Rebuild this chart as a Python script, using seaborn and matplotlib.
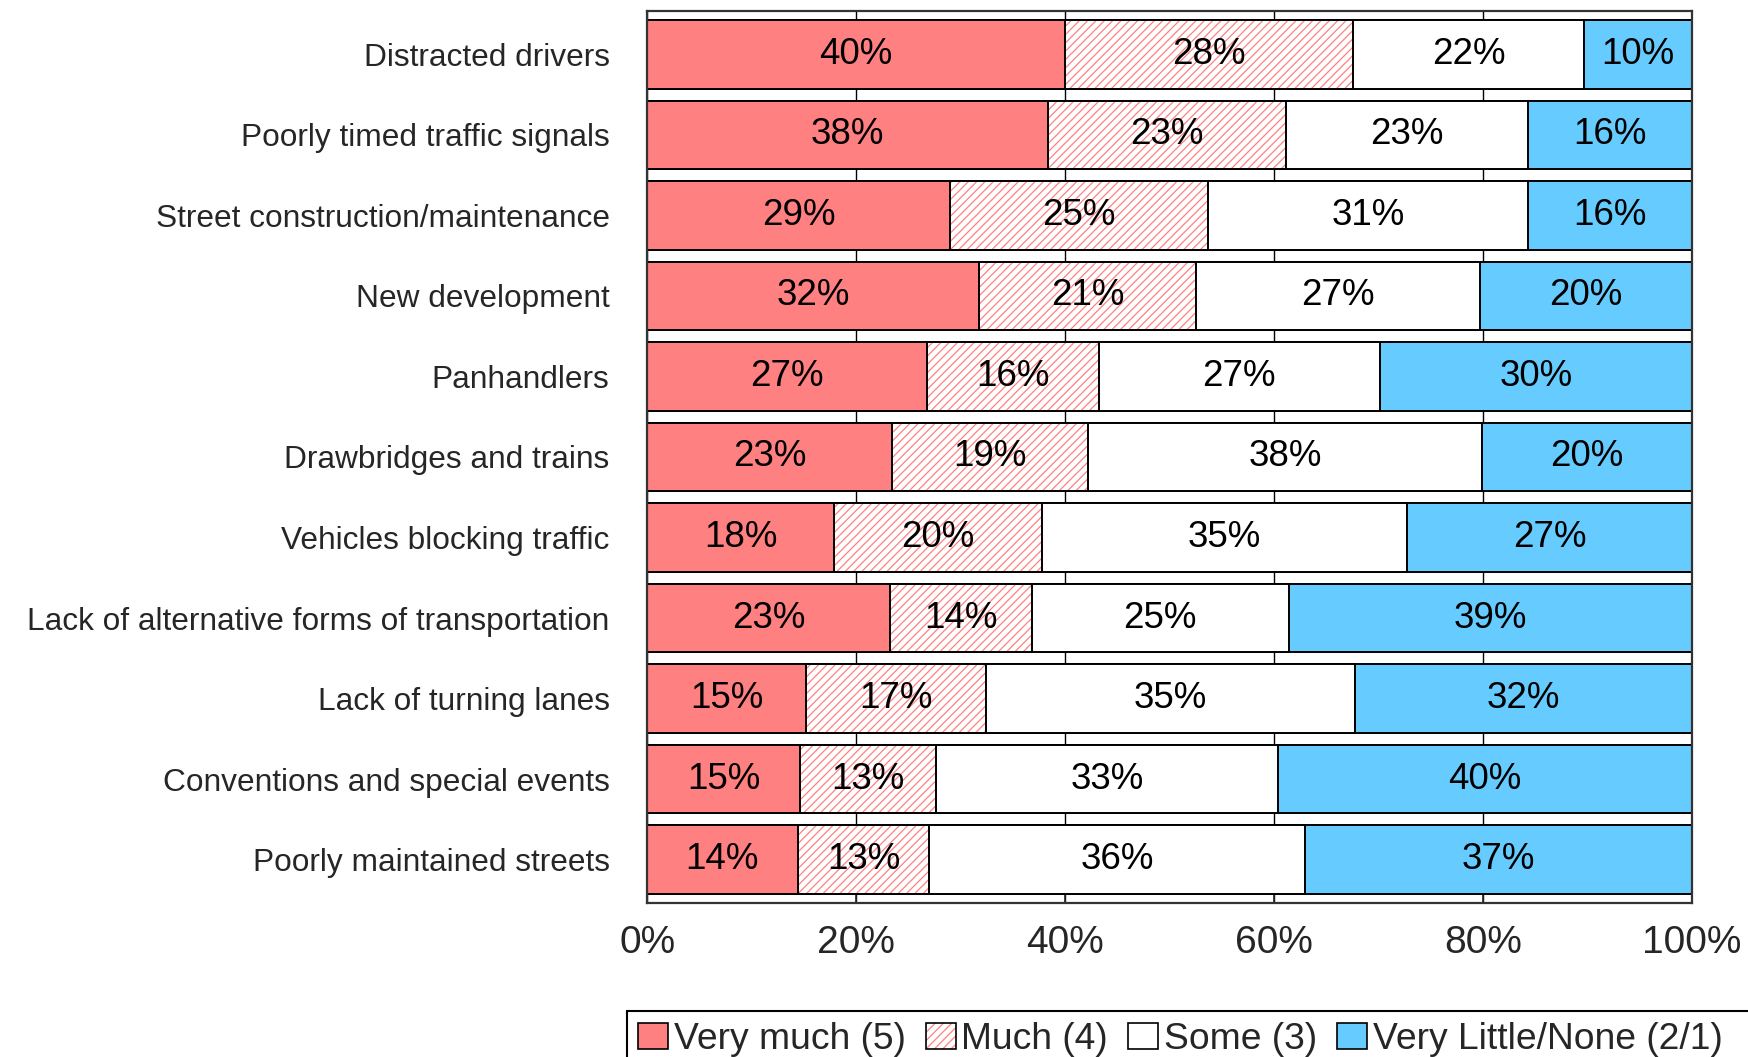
import numpy as np
import pandas as pd
import matplotlib
matplotlib.use("Agg")
import matplotlib.pyplot as plt
from matplotlib.patches import Patch, Rectangle
from matplotlib.legend_handler import HandlerTuple
import seaborn as sns

# data (percent of respondents)
issues = ["Distracted drivers", "Poorly timed traffic signals", "Street construction/maintenance",
          "New development", "Panhandlers", "Drawbridges and trains", "Vehicles blocking traffic",
          "Lack of alternative forms of transportation", "Lack of turning lanes",
          "Conventions and special events", "Poorly maintained streets"]
very_much = [40.0, 38.4, 29.0, 31.8, 26.8, 23.4, 17.9, 23.2, 15.2, 14.6, 14.4]
much = [27.6, 22.7, 24.7, 20.7, 16.4, 18.8, 19.9, 13.6, 17.2, 13.0, 12.6]
some = [22.1, 23.2, 30.6, 27.2, 26.9, 37.7, 34.9, 24.6, 35.3, 32.8, 36.0]
little = [10.3, 15.7, 15.7, 20.3, 29.9, 20.1, 27.3, 38.6, 32.3, 39.6, 37.0]
series = ["Very much (5)", "Much (4)", "Some (3)", "Very Little/None (2/1)"]

RED = "#FF8080"
BLUE = "#66CCFF"

sns.set_style("white")
plt.rcParams['font.family'] = ['Liberation Sans', 'DejaVu Sans']
plt.rcParams['hatch.linewidth'] = 0.9

df = pd.DataFrame({"issue": issues, "vm": very_much, "m": much, "s": some, "l": little})
df["c1"] = df["vm"]
df["c2"] = df["c1"] + df["m"]
df["c3"] = df["c2"] + df["s"]
df["c4"] = df["c3"] + df["l"]

fig = plt.figure(figsize=(17.48, 10.57), dpi=100)
ax = fig.add_axes([0.3702, 0.1457, 0.968 - 0.3702, 0.9896 - 0.1457])

bw = 0.85
common = dict(y="issue", data=df, orient="h", width=bw, saturation=1, ax=ax)
# stacked bars: draw cumulative totals from the back to the front
sns.barplot(x="c4", color=BLUE, edgecolor="black", linewidth=1.4, **common)
sns.barplot(x="c3", color="white", edgecolor="black", linewidth=1.4, **common)
sns.barplot(x="c2", color="white", edgecolor=RED, hatch="////", linewidth=0, **common)
sns.barplot(x="c2", fill=False, color="black", edgecolor="black", linewidth=1.4, **common)
sns.barplot(x="c1", color=RED, edgecolor="black", linewidth=1.4, **common)

# segment labels
for i in range(len(df)):
    starts = [0, df.c1[i], df.c2[i], df.c3[i]]
    vals = [df.vm[i], df.m[i], df.s[i], df.l[i]]
    for st, v in zip(starts, vals):
        ax.text(st + v / 2, i, f"{v:.0f}%", ha="center", va="center", fontsize=26.5, color="black")

ax.set_xlim(0, 100)
ax.set_ylim(len(df) - 0.5 + 0.04, -0.5 - 0.04)
ax.set_xticks([0, 20, 40, 60, 80, 100])
ax.set_xticklabels([f"{t}%" for t in [0, 20, 40, 60, 80, 100]])
ax.xaxis.grid(True, color="black", linewidth=1)
ax.set_axisbelow(True)
ax.tick_params(axis="x", direction="in", length=6, width=1.2, labelsize=28, pad=16, bottom=True)
ax.tick_params(axis="y", length=0, labelsize=22.8, pad=27)
ax.set_xlabel("")
ax.set_ylabel("")
for sp in ax.spines.values():
    sp.set_visible(True)
    sp.set_color("#333333")
    sp.set_linewidth(1.6)

# legend box runs off the bottom right of the image
fig.patches.append(Rectangle((627 / 1748, -0.05), 0.7, 1 - 1011 / 1057 + 0.05,
                             transform=fig.transFigure, facecolor="white",
                             edgecolor="black", linewidth=1.5))

hatch_handle = (Patch(facecolor="white", edgecolor=RED, hatch="////", linewidth=0),
                Patch(fill=False, edgecolor="black", linewidth=1.2))
handles = [Patch(facecolor=RED, edgecolor="black", linewidth=1.2),
           hatch_handle,
           Patch(facecolor="white", edgecolor="black", linewidth=1.2),
           Patch(facecolor=BLUE, edgecolor="black", linewidth=1.2)]
leg = fig.legend(handles, series, loc="upper left", bbox_to_anchor=(627 / 1748, 1 - 1011 / 1057),
                 ncol=4, fontsize=26.8, frameon=False, borderaxespad=0,
                 handlelength=0.8, handleheight=0.7, handletextpad=0.15, columnspacing=0.55,
                 borderpad=0.3, handler_map={tuple: HandlerTuple(ndivide=1, pad=0)})

fig.savefig("out.png", dpi=100)
